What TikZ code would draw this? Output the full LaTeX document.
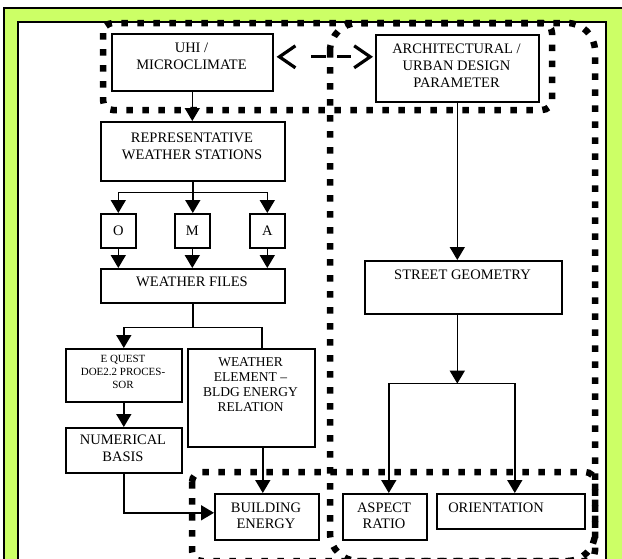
\documentclass[tikz,border=0pt]{standalone}
\usepackage{fontspec}
\setmainfont{Liberation Serif}
\usetikzlibrary{arrows.meta,calc}
\definecolor{limebg}{HTML}{CCFF66}
\tikzset{
  box/.style={draw, line width=1.6pt, inner sep=0pt, anchor=north west},
  txt/.style={inner sep=0pt, anchor=north, align=center, font=\fontsize{14.5}{17}\selectfont},
  conn/.style={line width=1.6pt},
  arr/.style={conn, -{Triangle[length=13pt,width=15pt]}},
  region/.style={line width=6.5pt, dash pattern=on 6.5pt off 9.5pt},
  dbl/.style={line width=3.2pt, dash pattern=on 15pt off 11pt on 14pt off 54pt, dash phase=64pt,
    {Straight Barb[length=16pt,width=22pt]}-{Straight Barb[length=16pt,width=22pt]}},
}
\begin{document}
\begin{tikzpicture}[x=1pt,y=-1pt]
\useasboundingbox (0,0) rectangle (622,558);
\clip (0,0) rectangle (622,558);
\fill[white] (0,0) rectangle (622,558);
\filldraw[fill=limebg, draw=black, line width=1.2pt] (4,8) rectangle (630,570);
\filldraw[fill=white, draw=black, line width=1.4pt] (18,22) rectangle (606,570);

% boxes
\node[box, minimum width=161pt, minimum height=57pt] (uhi) at (111,33) {};
\node[box, minimum width=163pt, minimum height=67pt] (arch) at (375,34) {};
\node[box, minimum width=184pt, minimum height=59pt] (rep) at (100,121) {};
\node[box, minimum width=35pt, minimum height=34pt] (o) at (100,213) {};
\node[box, minimum width=35pt, minimum height=34pt] (m) at (174,213) {};
\node[box, minimum width=35pt, minimum height=34pt] (a) at (249,213) {};
\node[box, minimum width=184pt, minimum height=34pt] (wf) at (100,268) {};
\node[box, minimum width=116pt, minimum height=53pt] (eq) at (65,348) {};
\node[box, minimum width=116pt, minimum height=45pt] (nb) at (65,427) {};
\node[box, minimum width=127pt, minimum height=98pt] (we) at (187,348) {};
\node[box, minimum width=104pt, minimum height=46pt] (be) at (214,493) {};
\node[box, minimum width=197pt, minimum height=53pt] (sg) at (364,260) {};
\node[box, minimum width=84pt, minimum height=46pt] (ar) at (342,493) {};
\node[box, minimum width=148pt, minimum height=35pt] (ori) at (436,493) {};

% texts
\node[txt] (uhit) at (191.5,43) {UHI /\\MICROCLIMATE};
\node[txt] (archt) at (456.5,44) {ARCHITECTURAL /\\URBAN DESIGN\\PARAMETER};
\node[txt] (rept) at (192,133) {REPRESENTATIVE\\WEATHER STATIONS};
\node[txt, anchor=center] (ot) at (o.center) {O};
\node[txt, anchor=center] (mt) at (m.center) {M};
\node[txt, anchor=center] (at) at (a.center) {A};
\node[txt] (wft) at (192,277) {WEATHER FILES};
\node[txt, font=\fontsize{11}{13}\selectfont] (eqt) at (123,355) {E QUEST\\DOE2.2 PROCES-\\SOR};
\node[txt] (nbt) at (123,435) {NUMERICAL\\BASIS};
\node[txt, font=\fontsize{13.5}{15}\selectfont] (wet) at (250.5,357) {WEATHER\\ELEMENT --\\BLDG ENERGY\\RELATION};
\node[txt, font=\fontsize{14.5}{16}\selectfont] (bet) at (266,503) {BUILDING\\ENERGY};
\node[txt] (sgt) at (462.5,270) {STREET GEOMETRY};
\node[txt, font=\fontsize{14.5}{16}\selectfont] (art) at (384,503) {ASPECT\\RATIO};
\node[txt] (orit) at (496,503) {ORIENTATION};

% connectors left
\draw[arr] (uhi.south) -- (uhi.south |- rep.north);
\coordinate (rb) at ($(rep.south)+(0,11)$);
\draw[conn] (rep.south) -- (rb);
\draw[arr] (rb) -| (o.north);
\draw[arr] (rb) -| (a.north);
\draw[arr] (rb) -- (rb |- m.north);
\draw[arr] (o.south) -- (o.south |- wf.north);
\draw[arr] (m.south) -- (m.south |- wf.north);
\draw[arr] (a.south) -- (a.south |- wf.north);
\coordinate (wb) at ($(wf.south)+(0,24)$);
\draw[conn] (wf.south) -- (wb);
\draw[arr] (wb) -| (eq.north);
\draw[conn] (wb) -| ([xshift=10.5pt]we.north);
\draw[arr] (eq.south) -- (nb.north);
\draw[arr] (nb.south) |- ([yshift=4pt]be.west);
\draw[arr] ([xshift=-4pt]be.north |- we.south) -- ([xshift=-4pt]be.north);

% connectors right
\draw[arr] (arch.south) -- (arch.south |- sg.north);
\coordinate (sb) at ($(arch.south |- sg.south)+(0,69)$);
\draw[arr] (arch.south |- sg.south) -- (sb);
\draw[arr] (sb) -| ([xshift=4pt]ar.north);
\draw[arr] (sb) -| ([xshift=4pt]ori.north);

% dashed double arrow
\coordinate (dA) at ($(uhi.east)+(3,-5.5)$);
\coordinate (dB) at ($(arch.west |- dA)+(-2,0)$);
\draw[dbl] (dA) -- (dB);

% dotted regions
\draw[region, rounded corners=10pt] (103,23) rectangle (552,110);
\draw[region, rounded corners=28pt] (330,23) rectangle (595,561);
\draw[region, rounded corners=10pt] (192,472) rectangle (595,561);
\end{tikzpicture}
\end{document}
